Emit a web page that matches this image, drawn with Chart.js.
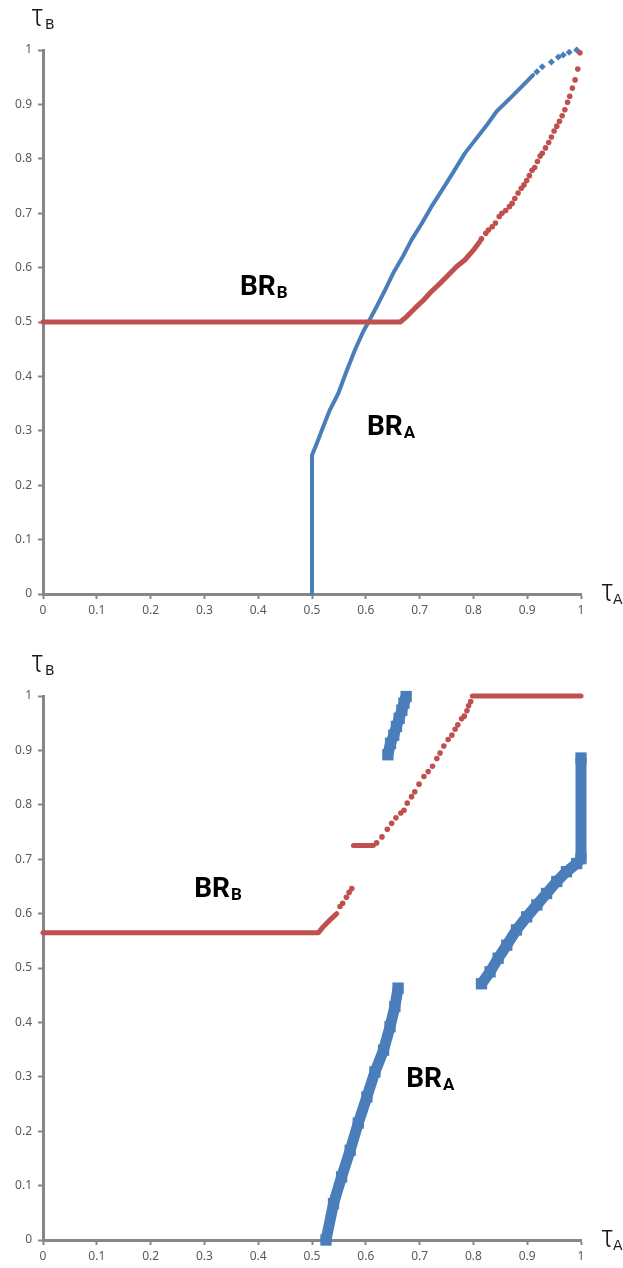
<!DOCTYPE html>
<html>
<head>
<meta charset="utf-8">
<script src="https://cdn.jsdelivr.net/npm/chart.js@4.4.1/dist/chart.umd.min.js"></script>
<style>
  html, body { margin: 0; padding: 0; background: #fff; }
  #wrap { width: 623px; height: 1268px; }
  canvas { display: block; }
</style>
</head>
<body>
<div id="wrap">
  <canvas id="top-chart" width="623" height="634"></canvas>
  <canvas id="bottom-chart" width="623" height="634"></canvas>
</div>
<script>
// Tick labels shared by both axes of both charts
const tickLabels = ['0', '0.1', '0.2', '0.3', '0.4', '0.5', '0.6', '0.7', '0.8', '0.9', '1'];

// Upper chart: best responses, [tauA, tauB]
const topRedLine = [[0, 0.5], [0.664, 0.5], [0.676, 0.51], [0.691, 0.525], [0.707, 0.54], [0.722, 0.556],
  [0.738, 0.571], [0.753, 0.586], [0.769, 0.602], [0.784, 0.614], [0.8, 0.632], [0.812, 0.648]];
const topRedDots = [[0.815, 0.653], [0.823, 0.663], [0.828, 0.669], [0.835, 0.675], [0.841, 0.682],
  [0.848, 0.694], [0.853, 0.7], [0.86, 0.705], [0.867, 0.712], [0.872, 0.718], [0.877, 0.727],
  [0.883, 0.737], [0.889, 0.746], [0.894, 0.752], [0.899, 0.76], [0.904, 0.769], [0.909, 0.779],
  [0.914, 0.784], [0.919, 0.795], [0.924, 0.805], [0.928, 0.81], [0.934, 0.82], [0.94, 0.83],
  [0.945, 0.84], [0.95, 0.851], [0.955, 0.86], [0.96, 0.869], [0.965, 0.879], [0.97, 0.89],
  [0.975, 0.904], [0.979, 0.915], [0.984, 0.93], [0.989, 0.945], [0.994, 0.965], [0.998, 0.995]];
const topBlueLine = [[0.5, 0], [0.5, 0.255], [0.509, 0.277], [0.521, 0.308], [0.533, 0.338], [0.549, 0.369],
  [0.564, 0.409], [0.58, 0.449], [0.595, 0.482], [0.605, 0.5], [0.62, 0.528], [0.636, 0.559],
  [0.651, 0.59], [0.667, 0.617], [0.685, 0.651], [0.704, 0.681], [0.722, 0.712], [0.744, 0.746],
  [0.763, 0.776], [0.784, 0.81], [0.806, 0.838], [0.825, 0.862], [0.843, 0.887], [0.868, 0.911],
  [0.893, 0.936], [0.911, 0.954]];
const topBlueDots = [[0.918, 0.96], [0.928, 0.969], [0.945, 0.978], [0.958, 0.987], [0.967, 0.991],
  [0.978, 0.996], [0.992, 1]];

// Lower chart
const botRedLine1 = [[0, 0.565], [0.512, 0.565], [0.521, 0.576], [0.533, 0.588], [0.546, 0.6]];
const botRedDots1 = [[0.552, 0.613], [0.557, 0.619], [0.564, 0.63], [0.569, 0.639], [0.574, 0.646]];
const botRedLine2 = [[0.577, 0.725], [0.614, 0.725]];
const botRedDots2 = [[0.62, 0.73], [0.63, 0.741], [0.64, 0.755], [0.648, 0.766], [0.656, 0.776],
  [0.665, 0.785], [0.671, 0.79], [0.677, 0.803], [0.685, 0.815], [0.691, 0.824], [0.699, 0.838],
  [0.708, 0.852], [0.716, 0.861], [0.724, 0.871], [0.732, 0.885], [0.738, 0.895], [0.745, 0.908],
  [0.753, 0.92], [0.76, 0.928], [0.766, 0.939], [0.771, 0.947], [0.778, 0.958], [0.783, 0.963],
  [0.788, 0.973], [0.791, 0.982], [0.795, 0.99]];
const botRedLine3 = [[0.798, 1], [1, 1]];
const botBlueBand1 = [[0.526, 0], [0.54, 0.067], [0.555, 0.116], [0.571, 0.165], [0.586, 0.215],
  [0.602, 0.263], [0.617, 0.309], [0.633, 0.349], [0.645, 0.392], [0.654, 0.429], [0.66, 0.463]];
const botBlueBand2 = [[0.641, 0.892], [0.646, 0.913], [0.652, 0.928], [0.657, 0.944], [0.662, 0.959],
  [0.667, 0.974], [0.671, 0.987], [0.675, 0.999]];
const botBlueBand3 = [[0.815, 0.471], [0.831, 0.493], [0.846, 0.518], [0.862, 0.542], [0.88, 0.57],
  [0.899, 0.594], [0.918, 0.616], [0.936, 0.637], [0.955, 0.659], [0.973, 0.677], [0.992, 0.692],
  [1, 0.701], [1, 0.886]];

const BLUE = '#4a7ebb';
const RED = '#c0504d';
const AXIS = '#868686';
const LABEL = '#595959';

const toPoints = (pairs) => pairs.map(([x, y]) => ({ x, y }));

const lineSet = (pairs, color, width) => ({
  data: toPoints(pairs),
  showLine: true,
  borderColor: color,
  borderWidth: width,
  borderCapStyle: 'round',
  borderJoinStyle: 'round',
  pointRadius: 0,
  pointHoverRadius: 0,
  clip: false,
});

const dotSet = (pairs, color, style, radius) => ({
  data: toPoints(pairs),
  showLine: false,
  pointStyle: style,
  pointRadius: radius,
  pointHoverRadius: radius,
  pointBackgroundColor: color,
  pointBorderWidth: 0,
  clip: false,
});

// thick run of square markers joined by a wide stroke
const bandSet = (pairs, color) => ({
  data: toPoints(pairs),
  showLine: true,
  borderColor: color,
  borderWidth: 11,
  borderCapStyle: 'butt',
  borderJoinStyle: 'bevel',
  pointStyle: 'rect',
  pointRadius: 8,
  pointHoverRadius: 8,
  pointBackgroundColor: color,
  pointBorderWidth: 0,
  clip: false,
});

// BR labels in data units, axis names next to the axis ends
const markLabels = {
  id: 'markLabels',
  afterDatasetsDraw(chart, args, opts) {
    const { ctx, chartArea, scales: { x, y } } = chart;
    ctx.save();
    ctx.fillStyle = '#000';
    ctx.textBaseline = 'alphabetic';
    ctx.textAlign = 'left';
    opts.curves.forEach(({ text, sub, at }) => {
      const px = x.getPixelForValue(at[0]);
      const py = y.getPixelForValue(at[1]);
      ctx.font = 'bold 28px Roboto';
      ctx.fillText(text, px, py);
      const w = ctx.measureText(text).width;
      ctx.font = 'bold 17px Roboto';
      ctx.fillText(sub, px + w + 1, py + 3);
    });
    ctx.fillStyle = '#1a1a1a';
    ctx.font = '17px "DejaVu Sans"';
    ctx.fillText('Ʈ', chartArea.left - 11, chartArea.top - 28);
    ctx.font = '14px "DejaVu Sans"';
    ctx.fillText('B', chartArea.left + 2, chartArea.top - 21);
    ctx.font = '17px "DejaVu Sans"';
    ctx.fillText('Ʈ', chartArea.right + 21, chartArea.bottom + 3);
    ctx.font = '14px "DejaVu Sans"';
    ctx.fillText('A', chartArea.right + 32, chartArea.bottom + 10);
    ctx.restore();
  },
};

const axis = (extra) => ({
  type: 'linear',
  min: 0,
  max: 1,
  border: { display: true, color: AXIS, width: 3 },
  grid: { drawOnChartArea: false, drawTicks: true, tickLength: 5, tickWidth: 2, tickColor: AXIS },
  ...extra,
});

const makeChart = (id, datasets, curves, topPad, xHeight) => new Chart(document.getElementById(id), {
  type: 'scatter',
  data: { datasets },
  options: {
    responsive: false,
    animation: false,
    events: [],
    devicePixelRatio: 1,
    layout: { padding: { top: topPad, right: 42, left: 0, bottom: 0 } },
    scales: {
      x: axis({
        position: 'bottom',
        afterFit: (s) => { s.height = xHeight; },
        ticks: {
          stepSize: 0.1, color: LABEL, padding: 4, maxRotation: 0, autoSkip: false,
          font: { family: '"Noto Sans"', size: 12 },
          callback: (v) => tickLabels[Math.round(v * 10)],
        },
      }),
      y: axis({
        position: 'left',
        afterFit: (s) => { s.width = 43; },
        ticks: {
          stepSize: 0.1, color: LABEL, padding: 6, autoSkip: false,
          font: { family: '"Noto Sans"', size: 12 },
          callback: (v) => tickLabels[Math.round(v * 10)],
        },
      }),
    },
    plugins: {
      legend: { display: false },
      tooltip: { enabled: false },
      markLabels: { curves },
    },
  },
  plugins: [markLabels],
});

makeChart('top-chart', [
  lineSet(topRedLine, RED, 5),
  dotSet(topRedDots, RED, 'circle', 2.8),
  lineSet(topBlueLine, BLUE, 4),
  dotSet(topBlueDots, BLUE, 'rectRot', 3.5),
], [
  { text: 'BR', sub: 'B', at: [0.366, 0.55] },
  { text: 'BR', sub: 'A', at: [0.602, 0.292] },
], 50, 40);

makeChart('bottom-chart', [
  lineSet(botRedLine1, RED, 5),
  dotSet(botRedDots1, RED, 'circle', 2.8),
  lineSet(botRedLine2, RED, 5),
  dotSet(botRedDots2, RED, 'circle', 2.8),
  lineSet(botRedLine3, RED, 5),
  bandSet(botBlueBand1, BLUE),
  bandSet(botBlueBand2, BLUE),
  bandSet(botBlueBand3, BLUE),
], [
  { text: 'BR', sub: 'B', at: [0.281, 0.631] },
  { text: 'BR', sub: 'A', at: [0.675, 0.282] },
], 62, 28);
</script>
</body>
</html>
